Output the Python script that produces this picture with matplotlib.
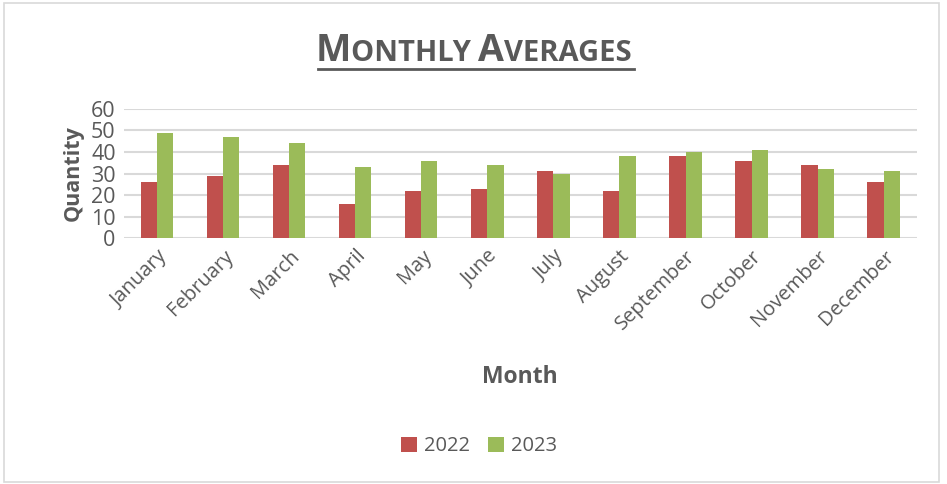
import numpy as np
import matplotlib
matplotlib.use("Agg")
import matplotlib.pyplot as plt
from matplotlib.offsetbox import TextArea, HPacker, AnchoredOffsetbox
from matplotlib.patches import Rectangle

plt.rcParams['font.family'] = ['Open Sans', 'DejaVu Sans']

months = ['January', 'February', 'March', 'April', 'May', 'June', 'July',
          'August', 'September', 'October', 'November', 'December']
y2022 = [26, 29, 34, 16, 22, 23, 31, 22, 38, 36, 34, 26]
y2023 = [49, 47, 44, 33, 36, 34, 30, 38, 40, 41, 32, 31]
yticks = [0, 10, 20, 30, 40, 50, 60]

grey = '#595959'
red = '#c0504d'
green = '#9bbb59'

fig = plt.figure(figsize=(9.47, 4.84), dpi=100)
fig.patches.append(Rectangle((0.004, 0.004), 0.988, 0.99, transform=fig.transFigure,
                             fill=False, edgecolor='#d9d9d9', linewidth=1.2))
ax = fig.add_axes([0.131, 0.508, 0.837, 0.267])

x = np.arange(len(months))
w = 0.245
ax.bar(x - w / 2, y2022, w, color=red, label='2022', zorder=3)
ax.bar(x + w / 2, y2023, w, color=green, label='2023', zorder=3)

ax.set_xlim(-0.5, len(months) - 0.5)
ax.set_ylim(0, 60)
ax.set_yticks(yticks)
ax.set_yticklabels([str(t) for t in yticks], fontsize=15.5, color=grey)
ax.set_xticks(x)
ax.set_xticklabels(months, rotation=45, ha='right', rotation_mode='anchor',
                   fontsize=14.5, color=grey)
ax.tick_params(length=0, pad=6)
ax.grid(axis='y', color='#d9d9d9', linewidth=1.5, zorder=0)
for s in ax.spines.values():
    s.set_visible(False)

ax.set_ylabel('Quantity', fontsize=15.5, fontweight='bold', color=grey, labelpad=5)
fig.text(0.549, 0.221, 'Month', fontsize=16.5, fontweight='bold', color=grey,
         ha='center', va='center')

# small caps title
parts = [('M', 27), ('ONTHLY ', 21), ('A', 27), ('VERAGES', 21)]
areas = [TextArea(t, textprops=dict(fontsize=s, fontweight='bold', color=grey))
         for t, s in parts]
box = HPacker(children=areas, align='baseline', pad=0, sep=0)
anch = AnchoredOffsetbox(loc='center', child=box, frameon=False,
                         bbox_to_anchor=(0.5, 0.894), bbox_transform=fig.transFigure,
                         borderpad=0, pad=0)
fig.add_artist(anch)
fig.add_artist(plt.Line2D([0.336, 0.669], [0.857, 0.857], transform=fig.transFigure,
                          color=grey, linewidth=2))

leg = fig.legend(loc='center', bbox_to_anchor=(0.506, 0.078), ncol=2, frameon=False,
                 fontsize=14.5, handlelength=0.8, handleheight=0.8, handletextpad=0.35,
                 columnspacing=0.9)
for t in leg.get_texts():
    t.set_color(grey)

fig.savefig('out.png', dpi=100, facecolor='white')
